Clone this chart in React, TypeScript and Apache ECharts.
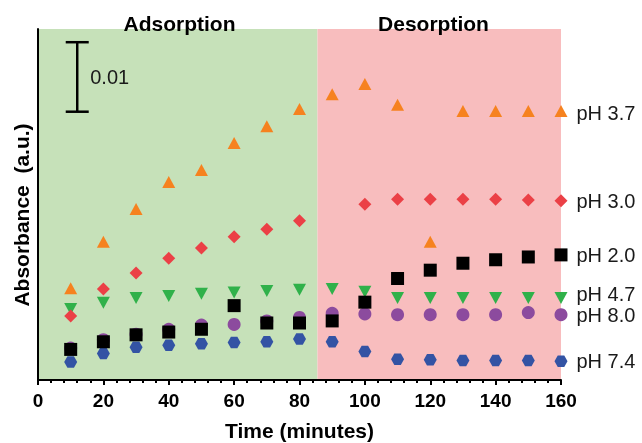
import React, { useEffect, useRef } from "react";
import * as echarts from "echarts";

const times = [10, 20, 30, 40, 50, 60, 70, 80, 90, 100, 110, 120, 130, 140, 150, 160];

const ph37 = [0.0132, 0.0199, 0.0246, 0.0285, 0.0302, 0.0341, 0.0365, 0.039, 0.0411, 0.0426, 0.0396, 0.0199, 0.0387, 0.0387, 0.0387, 0.0387];
const ph30 = [0.0092, 0.0131, 0.0154, 0.0175, 0.019, 0.0206, 0.0217, 0.0229, null, 0.0253, 0.026, 0.026, 0.026, 0.026, 0.0259, 0.0258];
const ph20 = [0.0044, 0.0055, 0.0065, 0.0069, 0.0073, 0.0107, 0.0082, 0.0082, 0.0085, 0.0112, 0.0146, 0.0158, 0.0168, 0.0173, 0.0177, 0.018];
const ph47 = [0.0102, 0.0111, 0.0118, 0.0121, 0.0124, 0.0126, 0.0128, 0.013, 0.0131, 0.0127, 0.0118, 0.0118, 0.0118, 0.0118, 0.0118, 0.0118];
const ph80 = [0.0046, 0.0058, 0.0066, 0.0073, 0.0079, 0.008, 0.0085, 0.009, 0.0096, 0.0095, 0.0094, 0.0094, 0.0094, 0.0094, 0.0097, 0.0094];
const ph74 = [0.0026, 0.0038, 0.0047, 0.005, 0.0052, 0.0054, 0.0055, 0.0059, 0.0055, 0.0041, 0.003, 0.0029, 0.0028, 0.0028, 0.0028, 0.0027];

const phaseSplit = 85.5;
const xTicks = [0, 20, 40, 60, 80, 100, 120, 140, 160];
const scaleBar = { x: 12, y0: 0.0386, height: 0.01, label: "0.01" };

const FONT = "'Liberation Sans', Arial, Helvetica, sans-serif";
const HEX = "path://M25 0 L75 0 L100 50 L75 100 L25 100 L0 50 Z";

function pairs(vals: (number | null)[], label: string, labelOffset: number) {
  return times.map((t, i) => {
    const v = vals[i];
    if (v === null) return [t, null];
    if (i === times.length - 1) {
      return {
        value: [t, v],
        label: {
          show: true,
          formatter: label,
          position: "right",
          distance: 9,
          offset: [0, labelOffset],
          color: "#1a1a1a",
          fontSize: 20,
          fontFamily: FONT,
        },
      };
    }
    return [t, v];
  });
}

export default function App() {
  const ref = useRef<HTMLDivElement>(null);
  useEffect(() => {
    if (!ref.current) return;
    const chart = echarts.init(ref.current, null, { renderer: "svg" });
    const mk = (name: string, data: any, symbol: string, size: any, color: string, rotate = 0) => ({
      type: "scatter",
      name,
      data,
      symbol,
      symbolSize: size,
      symbolRotate: rotate,
      itemStyle: { color, opacity: 1 },
      z: 3,
    });
    chart.setOption({
      animation: false,
      grid: { left: 38, right: 81, top: 29, bottom: 63, outerBoundsMode: "none", containLabel: false },
      xAxis: {
        type: "value",
        min: 0,
        max: 160,
        interval: 20,
        z: 10,
        axisLine: { show: true, lineStyle: { color: "#000", width: 2 } },
        axisTick: { show: true, length: 5, lineStyle: { color: "#000", width: 2 } },
        minorTick: { show: true, splitNumber: 5, length: 3, lineStyle: { color: "#000", width: 2 } },
        splitLine: { show: false },
        axisLabel: {
          color: "#000",
          fontSize: 19,
          fontWeight: "bold",
          fontFamily: FONT,
          margin: 11,
          customValues: xTicks,
        },
        name: "Time (minutes)",
        nameLocation: "middle",
        nameGap: 40,
        nameTextStyle: { color: "#000", fontSize: 21, fontWeight: "bold", fontFamily: FONT },
      },
      yAxis: {
        type: "value",
        min: 0,
        max: 0.0505,
        z: 10,
        axisLine: { show: true, lineStyle: { color: "#000", width: 2 } },
        axisTick: { show: false },
        axisLabel: { show: false },
        splitLine: { show: false },
      },
      graphic: [
        {
          type: "text",
          x: 179.5,
          y: 23.5,
          z: 100,
          style: { text: "Adsorption", fontSize: 21, fontWeight: "bold", fontFamily: FONT, fill: "#000", align: "center", verticalAlign: "middle" },
        },
        {
          type: "text",
          x: 433.5,
          y: 23.5,
          z: 100,
          style: { text: "Desorption", fontSize: 21, fontWeight: "bold", fontFamily: FONT, fill: "#000", align: "center", verticalAlign: "middle" },
        },
        {
          type: "text",
          x: 21,
          y: 215,
          z: 100,
          rotation: Math.PI / 2,
          style: { text: "Absorbance  (a.u.)", fontSize: 21, fontWeight: "bold", fontFamily: FONT, fill: "#000", align: "center", verticalAlign: "middle" },
        },
      ],
      series: [
        {
          type: "scatter",
          data: [],
          z: 1,
          silent: true,
          markArea: {
            silent: true,
            data: [
              [{ xAxis: 0, itemStyle: { color: "#c6e1b9" } }, { xAxis: phaseSplit }],
              [{ xAxis: phaseSplit, itemStyle: { color: "#f8bdbe" } }, { xAxis: 160 }],
            ],
          },
        },
        {
          type: "custom",
          z: 4,
          silent: true,
          data: [[scaleBar.x, scaleBar.y0, scaleBar.y0 + scaleBar.height]],
          renderItem: (params: any, api: any) => {
            const b = api.coord([api.value(0), api.value(1)]);
            const t = api.coord([api.value(0), api.value(2)]);
            const hw = 11.5;
            const st = { stroke: "#000", lineWidth: 2.5 };
            return {
              type: "group",
              children: [
                { type: "line", shape: { x1: b[0], y1: b[1], x2: t[0], y2: t[1] }, style: st },
                { type: "line", shape: { x1: b[0] - hw, y1: b[1], x2: b[0] + hw, y2: b[1] }, style: st },
                { type: "line", shape: { x1: t[0] - hw, y1: t[1], x2: t[0] + hw, y2: t[1] }, style: st },
                {
                  type: "text",
                  x: b[0] + 13,
                  y: (b[1] + t[1]) / 2,
                  style: { text: scaleBar.label, fontSize: 20, fontFamily: FONT, fill: "#1a1a1a", align: "left", verticalAlign: "middle" },
                },
              ],
            };
          },
        },
        mk("pH 7.4", pairs(ph74, "pH 7.4", 0), HEX, [13, 11.5], "#3353a4"),
        mk("pH 8.0", pairs(ph80, "pH 8.0", 0), "circle", 13, "#8c4b9e"),
        mk("pH 4.7", pairs(ph47, "pH 4.7", -4), "triangle", [13, 12], "#30b14a", 180),
        mk("pH 2.0", pairs(ph20, "pH 2.0", 0), "rect", 13, "#000000"),
        mk("pH 3.0", pairs(ph30, "pH 3.0", 0), "diamond", 13, "#eb4046"),
        mk("pH 3.7", pairs(ph37, "pH 3.7", 2), "triangle", [13, 12], "#f6821f"),
      ],
    });
    return () => chart.dispose();
  }, []);
  return <div ref={ref} style={{ position: "fixed", left: 0, top: 0, width: 642, height: 443 }} />;
}
